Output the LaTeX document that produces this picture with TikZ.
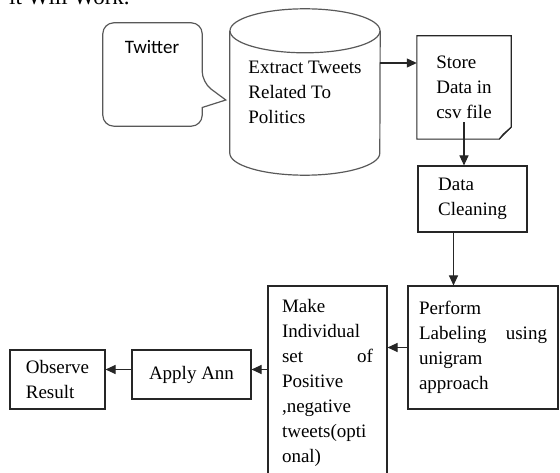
\documentclass[tikz,border=0pt]{standalone}
\usepackage{fontspec}
\setmainfont{Liberation Serif}
\newfontfamily\calloutfont{Carlito}
\usetikzlibrary{arrows.meta,positioning}

\begin{document}
\begin{tikzpicture}[
    x=1pt, y=-1pt,
    box/.style={
        rectangle, draw=black!85, line width=1.1pt,
        align=left, inner xsep=14pt,
        font=\fontsize{19}{25}\selectfont
    },
    plain/.style={
        rectangle, draw=none,
        align=left, inner sep=0pt,
        font=\fontsize{19}{25}\selectfont
    },
    outline/.style={draw=black!65, line width=1.2pt},
    arr/.style={-{Triangle[length=10pt,width=9pt]}, line width=1.1pt, black!85},
]
\useasboundingbox (0,0) rectangle (560,473);
\clip (0,0) rectangle (560,473);

% Heading (cut off at the top)
\node[anchor=base west, inner sep=0pt, font=\fontsize{23}{28}\selectfont] (heading) at (9,5) {it Will Work.};

% Nodes
\node[plain, minimum width=99pt, minimum height=103pt] (twitter) at (152.5,74.5) {};
\node[font=\calloutfont\fontsize{19}{23}\selectfont, inner sep=0pt] (twlabel) at (152,47) {Twitter};
\node[plain, minimum width=150pt, minimum height=166pt] (extract) at (305,92)
    {Extract Tweets\\Related To\\Politics};
\node[plain, minimum width=94pt, minimum height=103pt] (store) at (464,87.5)
    {Store\\Data in\\csv file};
\node[box, minimum width=109pt, minimum height=66pt] (clean) at (472.5,199)
    {Data\\Cleaning};
\node[box, text width=128pt, inner xsep=11pt, minimum height=123pt] (perform) at (483,347.5)
    {Perform\\Labeling \hfill using\\unigram\\approach};
\node[box, text width=91pt, minimum height=194pt] (make) at (327.5,383)
    {Make\\Individual\\set \hfill of\\Positive\\,negative\\tweets(opti\\onal)};
\node[box, minimum width=119pt, minimum height=49pt] (apply) at (191.5,374.5) {Apply Ann};
\node[box, minimum width=95pt, minimum height=59pt] (observe) at (57.5,379.5)
    {Observe\\Result};

% Callout
\coordinate (tip) at ([xshift=-4pt,yshift=-8pt]extract.west);
\draw[outline, rounded corners=11pt]
    (twitter.west) -- (twitter.north west) -- (twitter.north east)
    -- ([yshift=-8pt]twitter.east) [sharp corners] -- (tip)
    -- ([yshift=-33pt]twitter.east) [rounded corners=11pt] -- (twitter.south east)
    -- (twitter.south west) -- cycle;

% Cylinder
\draw[outline] ([yshift=-22pt]extract.north) ellipse [x radius=75pt, y radius=22pt];
\draw[outline] ([yshift=-22pt]extract.north west) -- ([yshift=22pt]extract.south west)
    arc[start angle=180, end angle=360, x radius=75pt, y radius=22pt]
    -- ([yshift=-22pt]extract.north east);

% Document with folded corner
\draw[box] (store.north west) -- (store.north east) -- ([yshift=12pt]store.south east)
    -- ([xshift=-12pt]store.south east) -- (store.south west) -- cycle;
\draw[box] ([yshift=12pt]store.south east) -- ([xshift=-8pt,yshift=5pt]store.south east)
    -- ([xshift=-12pt]store.south east);

% Arrows
\draw[arr] ([yshift=29pt]extract.east) -- ([yshift=29pt]extract.east -| store.west);
\draw[arr] ([yshift=17pt]store.south) -- (store.south |- clean.north);
\draw[arr] ([xshift=-19pt]clean.south) -- ([xshift=-19pt]clean.south |- perform.north);
\draw[arr] (perform.west) -- (perform.west -| make.east);
\draw[arr] ([yshift=5pt]make.west |- apply.east) -- ([yshift=5pt]apply.east);
\draw[arr] ([yshift=5pt]apply.west) -- ([yshift=5pt]apply.west -| observe.east);

\end{tikzpicture}
\end{document}
